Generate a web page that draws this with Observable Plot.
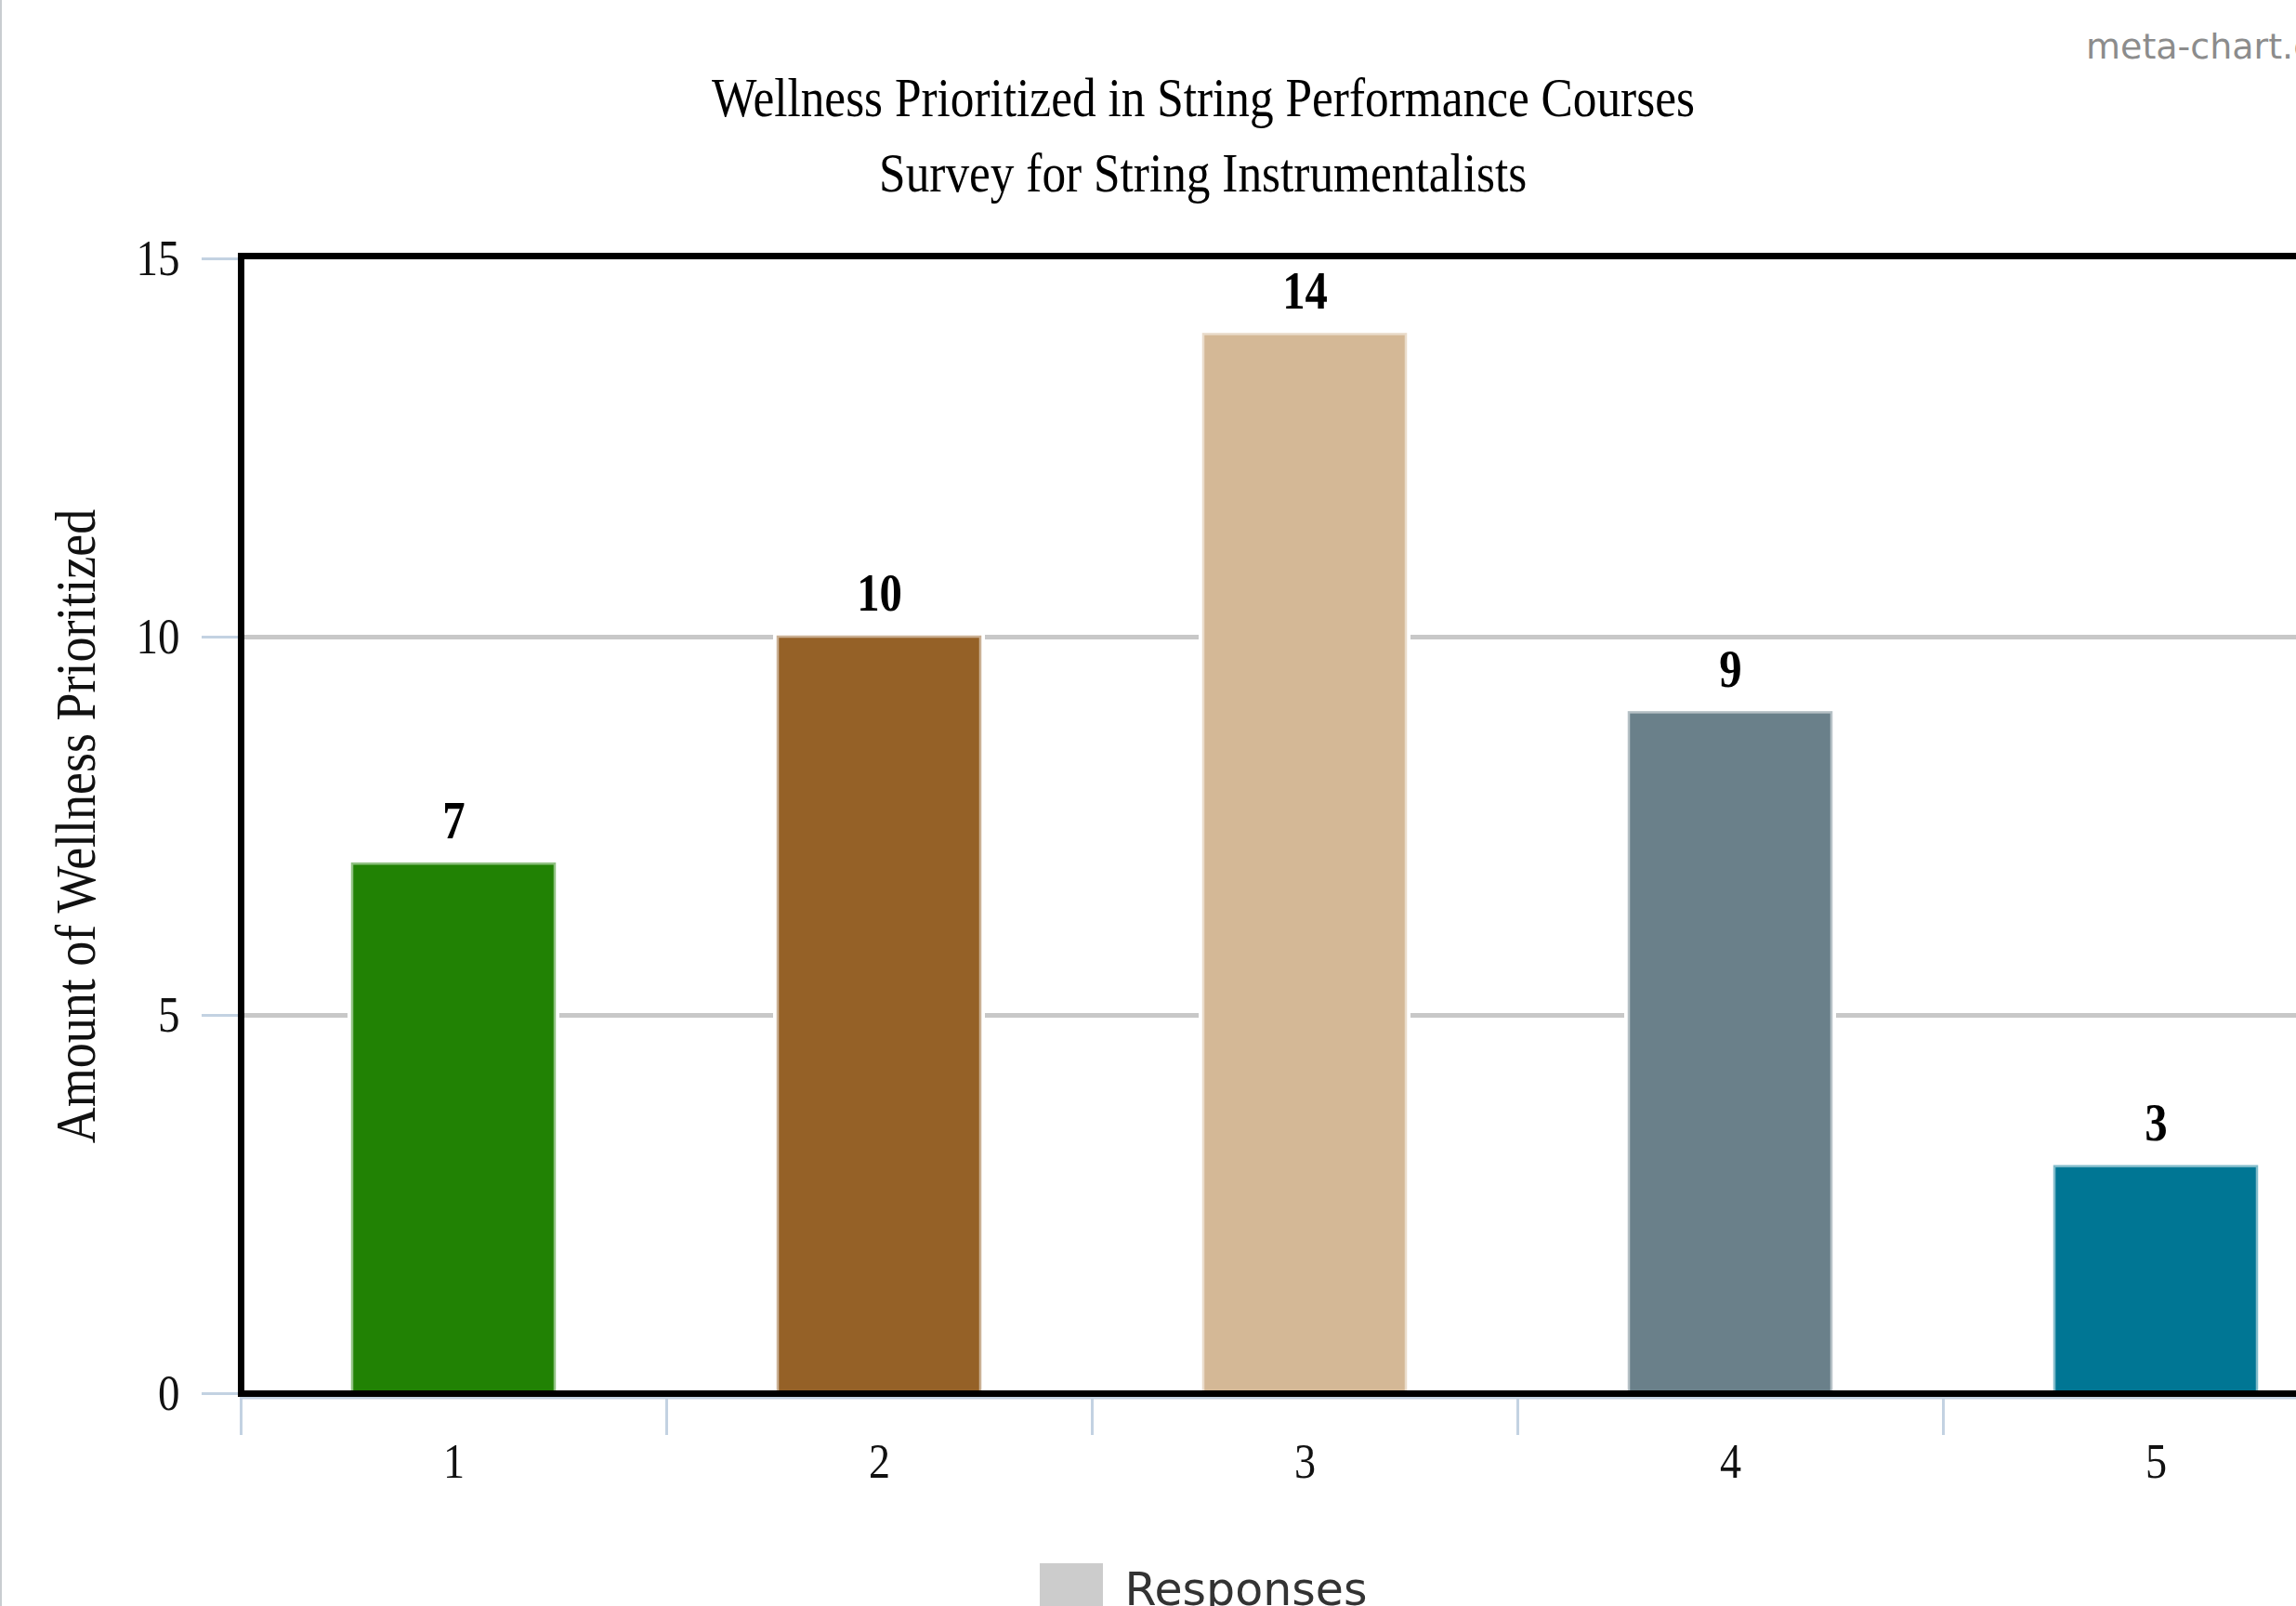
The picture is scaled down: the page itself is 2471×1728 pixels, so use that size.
<!DOCTYPE html>
<html>
<head>
<meta charset="utf-8">
<script src="https://cdn.jsdelivr.net/npm/d3@7"></script>
<script src="https://cdn.jsdelivr.net/npm/@observablehq/plot@0.6"></script>
<style>
  html, body { margin: 0; padding: 0; background: #fff; }
  body { width: 2471px; height: 1728px; overflow: hidden; position: relative; }
  #wrap { width: 2590px; position: relative; }
  #header { height: 220px; position: relative; }
  .ttl { position: absolute; left: 0; width: 2590px; text-align: center;
         font-family: "Liberation Serif", "Times New Roman", serif; font-size: 59px; line-height: 59px; color: #000; }
  .ttl span { display: inline-block; transform: scaleX(0.87); transform-origin: center; white-space: nowrap; }
  #brand { position: absolute; left: 2245px; top: 31px; font-family: "DejaVu Sans", sans-serif;
           font-size: 38px; line-height: 38px; color: #8c8c8c; white-space: nowrap; }
  #legend { display: flex; justify-content: center; align-items: flex-start; margin-top: 22px; width: 2590px; }
  #legend .sw { width: 68px; height: 71px; background: #cccccc; }
  #legend .lb { margin-left: 24px; margin-top: 4px; font-family: "DejaVu Sans", sans-serif; font-size: 49px;
                line-height: 49px; color: #333; white-space: nowrap; }
  #edge { position: absolute; left: 0; top: 0; width: 2px; height: 1728px; background: #c9cdd1; }
</style>
</head>
<body>
<div id="wrap">
  <div id="header">
    <div id="brand">meta-chart.com</div>
    <div class="ttl" id="title" style="top:76px"><span>Wellness Prioritized in String Performance Courses</span></div>
    <div class="ttl" id="subtitle" style="top:157px"><span>Survey for String Instrumentalists</span></div>
  </div>
  <div id="chart"></div>
  <div id="legend"><div class="sw"></div><div class="lb">Responses</div></div>
</div>
<div id="edge"></div>
<script>
// ---- data ----
const categories = ["1", "2", "3", "4", "5"];
const responses = [7, 10, 14, 9, 3];
const barColors = ["#218204", "#956127", "#d4b896", "#6a808a", "#007694"];
const yTicks = [0, 5, 10, 15];
const gridValues = [5, 10];
const yTitle = "Amount of Wellness Prioritized";

const data = categories.map((c, i) => ({category: c, value: responses[i], color: barColors[i]}));

const W = 2590, H = 1440, mL = 259, mR = 41, mT = 58, mB = 161;
const step = (W - mL - mR) / categories.length;
const axisBlue = "#c3d2e2";
const serif = "'Liberation Serif', 'Times New Roman', serif";

const chart = Plot.plot({
  width: W, height: H,
  marginLeft: mL, marginRight: mR, marginTop: mT, marginBottom: mB,
  style: {fontFamily: serif, fontSize: "53px", color: "#111", background: "transparent", overflow: "visible"},
  x: {domain: categories, paddingInner: 0.524, paddingOuter: 0.262, axis: null},
  y: {domain: [0, 15], axis: null},
  color: {type: "identity"},
  marks: [
    Plot.ruleY(gridValues, {stroke: "#c8c8c8", strokeWidth: 5}),
    Plot.barY(data, {x: "category", y: "value", fill: "white", insetLeft: -5, insetRight: -5, insetTop: -5}),
    Plot.barY(data, {x: "category", y: "value", fill: "color",
      stroke: d => d3.interpolateRgb(d.color, "#ffffff")(0.5), strokeWidth: 2.5}),
    Plot.text(data, {x: "category", y: "value", text: d => String(d.value), dy: -46,
      fontWeight: "bold", fontSize: 56, fill: "#000"}),
    Plot.axisY({ticks: yTicks, tickSize: 42, tickPadding: 24, stroke: axisBlue, strokeWidth: 3,
      fontSize: 54, fill: "#111", label: null}),
    Plot.axisX({tickSize: 45, tickFormat: () => "", dx: -step / 2, stroke: axisBlue, strokeWidth: 3, label: null}),
    Plot.axisX({tickSize: 0, tickPadding: 53, fontSize: 53, fill: "#111", label: null}),
    Plot.ruleY([0], {stroke: axisBlue, strokeWidth: 4, dy: 4}),
    Plot.frame({stroke: "#000", strokeWidth: 7, insetTop: -3}),
    Plot.text([yTitle], {frameAnchor: "left", textAnchor: "middle", rotate: -90, dx: -177, fontSize: 62, fill: "#111"})
  ]
});
document.getElementById("chart").appendChild(chart);

// condense serif glyphs horizontally like the original
chart.querySelectorAll("text").forEach(t => {
  const L = t.getComputedTextLength();
  if (L > 0) {
    t.setAttribute("textLength", (L * 0.87).toFixed(2));
    t.setAttribute("lengthAdjust", "spacingAndGlyphs");
  }
});
</script>
</body>
</html>
